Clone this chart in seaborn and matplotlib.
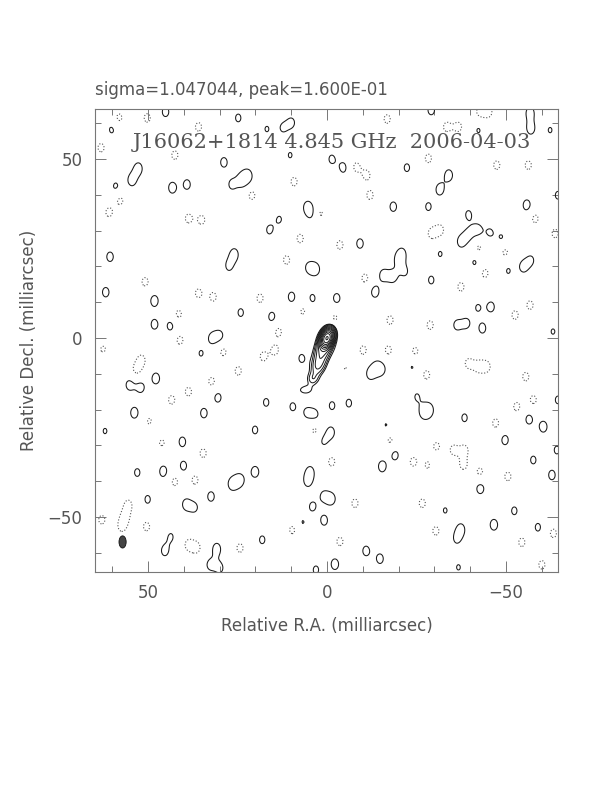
import numpy as np
import pandas as pd
import matplotlib
matplotlib.use("Agg")
import matplotlib.pyplot as plt
from matplotlib.patches import Ellipse
import seaborn as sns

# ---------------- data (mas, mJy/beam) ----------------
title_top = "sigma=1.047044, peak=1.600E-01"
source_label = "J16062+1814 4.845 GHz  2006-04-03"
sigma_mjy = 1.047044
peak_mjy = 160.0

# source model components: x, y (mas), amplitude (mJy/beam), sx, sy (mas), PA (deg)
src_x = [0.0, 0.8, 2.5, 4.0, 6.0]
src_y = [0.0, -2.5, -8.0, -11.5, -14.5]
src_amp = [140.0, 16.0, 7.0, 4.8, 4.2]
src_sx = [0.9, 1.5, 1.4, 1.3, 1.8]
src_sy = [1.4, 3.2, 2.0, 1.3, 1.1]
src_pa = [-20.0, -20.0, -20.0, 0.0, 0.0]

# positive noise features (mas) and peak (mJy/beam)
pos_x = [45.1, 60.1, 24.8, 52.7, 54.5, 59.0, 43.2, 39.1, 28.8, 26.6, 23.8, 22.1, 60.6, 25.9,
         27.4, 61.8, 48.2, 24.1, 48.2, 43.7, 32.2, 29.9, 9.9, 12.4, 16.8, 10.3, -1.3, -4.6,
         -22.3, 5.5, 4.3, -18.5, 13.3, 16.1, -9.2, 3.1, 5.2, -15.7, -18.4, -19.9, -21.0, -21.8,
         -13.4, 9.9, 4.1, -2.7, 15.4, 4.7, -29.1, -56.7, -56.9, -62.3, -42.3, -34.0, -31.5,
         -28.3, -55.8, -39.5, -42.1, -37.4, -39.5, -45.5, -48.8, -54.8, -57.0, -31.6, -41.3,
         -50.6, -29.1, -45.8, -42.1, -36.2, -39.0, -43.4, -64.5, -63.1, 35.2, 62.0, 47.8, 55.2,
         52.0, 30.5, 53.8, 34.4, 62.0, 47.1, 40.4, 45.7, 40.1, 53.0, 20.1, 24.3, 26.5, 50.1,
         39.4, 36.9, 32.4, 45.3, 43.6, 30.8, 32.7, 29.9, 7.1, -4.4, -12.0, -13.7, -15.3, 17.0,
         9.6, 3.3, 5.7, -1.4, -6.1, 20.1, -1.1, 1.0, -16.5, -19.0, -15.4, 4.7, 5.4, 1.0, -1.3,
         4.1, 6.9, 0.8, 18.1, -10.9, -14.8, -2.2, 3.1, -23.8, -25.1, -28.5, -26.9, -38.4, -56.4,
         -60.4, -49.7, -64.5, -64.2, -57.6, -30.9, -62.8, -42.8, -33.0, -52.3, -46.6, -37.4,
         -58.9, -36.2, -36.7]
pos_y = [63.2, 58.3, 61.5, 47.4, 44.1, 42.3, 42.0, 42.9, 49.1, 42.9, 44.1, 45.3, 22.7, 23.4,
         20.1, 12.8, 10.4, 7.1, 3.8, 3.4, -0.1, 0.6, 60.2, 58.7, 58.4, 51.1, 50.0, 47.6,
         47.6, 36.7, 34.8, 36.7, 33.2, 30.2, 26.4, 19.2, 19.7, 17.6, 17.1, 21.8, 23.7, 18.5,
         12.9, 11.5, 11.1, 11.1, 5.9, 4.4, 63.7, 63.0, 58.5, 58.1, 58.1, 45.5, 41.5,
         36.7, 37.1, 34.5, 30.2, 26.9, 28.8, 29.5, 28.0, 19.9, 21.8, 23.5, 21.3,
         18.8, 16.2, 8.7, 8.5, 3.6, 4.1, 2.7, 39.9, 1.8, -4.3, -7.3, -11.3, -13.1,
         -13.8, -16.6, -20.9, -21.0, -26.0, -25.2, -29.0, -37.3, -35.8, -37.6, -37.4, -39.7, -40.8, -45.1,
         -46.5, -47.4, -44.3, -59.5, -55.5, -58.9, -63.4, -64.3, -5.7, -4.9, -10.1, -8.3, -8.7, -18.0,
         -19.2, -21.5, -20.8, -18.9, -18.2, -25.7, -26.3, -28.8, -24.5, -32.7, -35.9, -37.3, -40.1, -44.1, -45.0,
         -47.1, -51.6, -51.0, -56.4, -59.5, -61.7, -63.2, -64.8, -8.0, -16.4, -20.1, -20.8, -22.3, -22.7,
         -24.8, -28.5, -17.3, -31.3, -34.1, -35.2, -38.3, -42.0, -48.2, -48.3, -52.2, -53.4,
         -52.9, -56.2, -64.1]
pos_amp = [4.0, 3.7, 3.7, 4.3, 4.3, 3.7, 4.3, 4.0, 4.0, 3.7, 4.3, 4.3, 4.0, 4.3,
           3.7, 4.0, 4.3, 3.7, 4.0, 4.0, 3.7, 3.7, 3.7, 3.4, 3.4, 3.4, 3.7, 4.0,
           3.7, 3.7, 3.4, 4.0, 3.4, 3.7, 4.0, 4.0, 3.4, 4.0, 4.0, 3.4, 3.4, 3.4,
           4.3, 4.0, 3.7, 4.0, 4.0, 3.4, 4.0, 4.3, 4.3, 3.4, 3.4, 4.3, 4.3,
           3.7, 4.3, 3.7, 4.0, 4.0, 3.7, 3.4, 3.4, 4.0, 3.4, 3.4, 3.7,
           3.4, 3.7, 4.0, 3.4, 3.7, 3.7, 4.0, 3.7, 3.4, 3.4, 3.4, 4.3, 4.0,
           4.0, 4.0, 4.3, 4.0, 3.4, 3.7, 4.0, 4.3, 4.0, 3.7, 4.3, 4.3, 4.3, 3.7,
           4.0, 3.4, 4.0, 4.0, 3.4, 4.3, 3.7, 3.7, 3.7, 3.7, 3.7, 3.4, 3.4, 3.7,
           3.7, 3.7, 3.4, 3.7, 3.7, 3.7, 4.0, 3.4, 3.4, 4.0, 4.3, 3.7, 3.7, 3.4, 4.0,
           3.7, 3.4, 4.0, 3.7, 4.0, 4.0, 4.3, 3.7, 3.4, 3.4, 4.3, 3.7, 3.7, 4.0,
           4.3, 4.0, 3.7, 3.7, 3.7, 3.4, 4.0, 4.3, 3.4, 3.7, 4.3, 4.0,
           3.7, 3.4, 3.4]

# negative noise features (mas)
neg_x = [58.1, 50.2, 63.1, 42.5, 35.9, 57.8, 60.9, 38.7, 35.0, 21.0, 50.8, 35.9, 31.8, 41.5,
         -16.8, -8.1, -11.1, -12.0, 9.2, 2.0, 7.5, -3.6, 11.3, -10.6, 18.7, 6.6, -2.2, -17.6, 13.6,
         -42.7, -45.1, -33.4, -36.7, -28.3, -47.4, -56.2, -29.2, -31.6, -58.1, -42.3, -49.7, -44.1,
         -37.4, -56.7, -52.5, -28.8, -63.7,
         62.5, 51.8, 53.2, 41.1, 29.0, 24.8, 32.2, 38.7, 43.4, 49.4, 46.2, 34.6, 42.5, 36.9, 55.5,
         56.4, 57.3, 62.9, 50.4, 38.7, 36.4, 24.3,
         17.8, 14.5, -5.0, -17.1, -10.1, -17.6, -1.3, 3.4, -7.8, 9.6, -3.6,
         -24.6, -27.8, -39.5, -42.3, -44.6, -55.5, -57.6, -53.0, -47.1, -30.6, -35.3, -38.4, -24.1,
         -28.3, -38.1, -42.7, -50.5, -26.6, -30.4, -54.4, -60.0, -63.2]
neg_y = [61.5, 61.5, 53.2, 51.1, 59.0, 38.5, 35.1, 33.4, 33.0, 39.9, 15.7, 12.5, 11.5, 6.6,
         61.2, 47.8, 45.5, 39.9, 43.7, 34.8, 27.8, 26.0, 21.8, 16.7, 11.1, 7.3, 5.5, 5.0, 1.8,
         63.2, 63.2, 59.0, 59.0, 50.2, 48.3, 48.3, 29.2, 30.2, 33.4, 25.1, 24.1, 18.1,
         14.3, 9.2, 6.4, 3.6, 29.2,
         -3.4, -6.1, -8.9, -0.6, -3.8, -9.2, -12.2, -15.0, -17.3, -23.4, -29.0, -32.2, -40.1, -39.7, -46.6,
         -49.9, -52.7, -50.8, -52.7, -57.8, -58.6, -58.7,
         -5.2, -3.4, -8.0, -3.4, -3.4, -28.5, -34.6, -25.7, -46.2, -53.6, -56.9,
         -3.8, -10.3, -7.1, -8.0, -8.0, -10.8, -17.3, -19.2, -23.8, -30.4, -31.3, -31.3, -34.6,
         -35.5, -35.5, -37.5, -38.7, -46.2, -53.9, -57.1, -63.4, -54.6]

# restoring beam (mas, FWHM) and position
beam_x, beam_y = 57.1, -57.0
beam_major, beam_minor, beam_pa = 3.4, 2.0, 0.0

x_ticks_major = [50, 0, -50]
y_ticks_major = [-50, 0, 50]

# ---------------- build the map ----------------
sns.set_theme(style="ticks")
plt.rcParams['font.family'] = ['DejaVu Sans']

xs = np.linspace(66, -66, 440)
ys = np.linspace(-67, 66, 440)
X, Y = np.meshgrid(xs, ys)


def gauss(x0, y0, amp, sx, sy, pa):
    t = np.deg2rad(pa)
    dx = X - x0
    dy = Y - y0
    u = dx * np.cos(t) - dy * np.sin(t)
    v = dx * np.sin(t) + dy * np.cos(t)
    return amp * np.exp(-0.5 * ((u / sx) ** 2 + (v / sy) ** 2))


Zs = np.zeros_like(X)
for a in zip(src_x, src_y, src_amp, src_sx, src_sy, src_pa):
    Zs += gauss(*a)

Zn = np.zeros_like(X)
pos = pd.DataFrame({"x": pos_x, "y": pos_y, "amp": pos_amp})
neg = pd.DataFrame({"x": neg_x, "y": neg_y})
for r in pos.itertuples():
    Zn += gauss(r.x, r.y, r.amp, 1.3, 1.9, 0.0)
for r in neg.itertuples():
    Zn += gauss(r.x, r.y, -3.9, 1.3, 1.8, 0.0)
Z = Zs + Zn

base = 3 * sigma_mjy
pos_levels = [base * 2 ** (k / 2) for k in range(12)]

fig = plt.figure(figsize=(6.12, 7.92), dpi=100)
ax = fig.add_axes([95 / 612, 1 - 572 / 792, 463 / 612, 463 / 792])

# lowest contour from the full map, higher contours of the source
ax.contour(X, Y, Z, levels=[base], colors="#1a1a1a", linewidths=0.75)
ax.contour(X, Y, Zs, levels=pos_levels[1:], colors="#1a1a1a", linewidths=0.7)
ax.contour(X, Y, Z, levels=[-base], colors="#555555", linewidths=0.8,
           linestyles=":")

beam = Ellipse((beam_x, beam_y), width=beam_minor, height=beam_major, angle=-beam_pa,
               facecolor="#444444", edgecolor="#111111", lw=0.6)
ax.add_patch(beam)

ax.set_xlim(64.8, -64.5)
ax.set_ylim(-65.4, 64.0)
ax.set_aspect("auto")

ax.set_xticks(x_ticks_major)
ax.set_yticks(y_ticks_major)
ax.set_xticklabels(["50", "0", "\u221250"])
ax.set_yticklabels(["\u221250", "0", "50"])
ax.set_xticks(np.arange(-60, 61, 10), minor=True)
ax.set_yticks(np.arange(-60, 61, 10), minor=True)
ax.tick_params(which="both", direction="in", top=True, right=True, colors="#777777",
               labelcolor="#555555", width=0.7)
ax.tick_params(which="major", length=8, labelsize=12, pad=9)
ax.tick_params(which="minor", length=4)
for s in ax.spines.values():
    s.set_color("#777777")
    s.set_linewidth(0.8)

ax.set_xlabel("Relative R.A. (milliarcsec)", fontsize=12, color="#555555")
ax.set_ylabel("Relative Decl. (milliarcsec)", fontsize=12, color="#555555")
ax.xaxis.set_label_coords(0.5, -45 / 463)
ax.yaxis.set_label_coords(-57 / 463, 0.5)

ax.text(0.512, 0.927, source_label, transform=ax.transAxes, ha="center", va="center",
        fontsize=15, color="#555555", family="DejaVu Serif")
fig.text(95 / 612, 1 - 90 / 792, title_top, ha="left", va="center", fontsize=12,
         color="#555555")

fig.savefig("out.png", dpi=100)
